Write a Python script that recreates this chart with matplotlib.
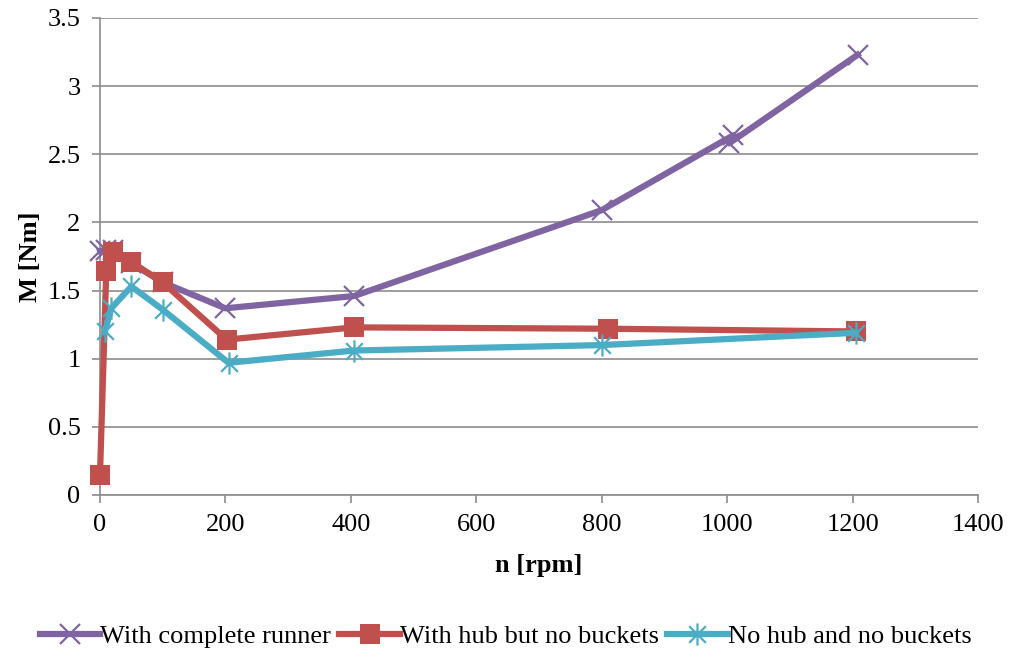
import matplotlib
matplotlib.use("Agg")
import matplotlib.pyplot as plt
from matplotlib.path import Path

# ------------------------
# Data
# ------------------------
n_runner = [0, 10, 20, 50, 100, 200, 405, 800, 1010, 1003, 1208]
m_runner = [1.79, 1.80, 1.80, 1.70, 1.56, 1.37, 1.46, 2.09, 2.64, 2.58, 3.23]

n_hub = [0, 10, 20, 50, 100, 202, 405, 810, 1205]
m_hub = [0.15, 1.64, 1.78, 1.71, 1.56, 1.14, 1.23, 1.22, 1.20]

n_bare = [8, 18, 50, 100, 205, 405, 800, 1205]
m_bare = [1.20, 1.37, 1.53, 1.36, 0.97, 1.06, 1.10, 1.19]

labels = ["With complete runner", "With hub but no buckets", "No hub and no buckets"]
colors = ["#8064A2", "#C0504D", "#4BACC6"]

xticks = [0, 200, 400, 600, 800, 1000, 1200, 1400]
yticks = [0, 0.5, 1, 1.5, 2, 2.5, 3, 3.5]

# ------------------------
# Style
# ------------------------
plt.rcParams["font.family"] = ["Liberation Serif", "DejaVu Serif"]
plt.rcParams["font.size"] = 19

# excel-like star marker: vertical + two diagonals
star = Path(
    [(0, -1), (0, 1), (-0.75, -0.75), (0.75, 0.75), (-0.75, 0.75), (0.75, -0.75)],
    [Path.MOVETO, Path.LINETO, Path.MOVETO, Path.LINETO, Path.MOVETO, Path.LINETO],
)

fig = plt.figure(figsize=(10.11, 6.52), dpi=100)
ax = fig.add_axes([0.0989, 0.2408, 0.8685, 0.7316])

ax.plot(n_runner, m_runner, color=colors[0], lw=4.5, marker="x", ms=15, mew=1.6,
        label=labels[0], zorder=3, clip_on=False)
ax.plot(n_hub, m_hub, color=colors[1], lw=4.5, marker="s", ms=15, mew=0,
        label=labels[1], zorder=4, clip_on=False)
ax.plot(n_bare, m_bare, color=colors[2], lw=4.5, marker=star, ms=16, mew=1.6,
        label=labels[2], zorder=5, clip_on=False)

ax.set_xlim(0, 1400)
ax.set_ylim(0, 3.5)
ax.set_xticks(xticks)
ax.set_yticks(yticks)
ax.set_yticklabels([f"{v:g}" for v in yticks])

ax.grid(axis="y", color="#8c8c8c", lw=1.2)
ax.set_axisbelow(True)
for side in ["top", "right"]:
    ax.spines[side].set_visible(False)
for side in ["left", "bottom"]:
    ax.spines[side].set_color("#8c8c8c")
    ax.spines[side].set_linewidth(1.2)
ax.tick_params(axis="both", colors="#8c8c8c", length=6, width=1.2,
               labelcolor="black", pad=8)

ax.set_xlabel("n [rpm]", fontweight="bold", labelpad=13)
ax.set_ylabel("M [Nm]", fontweight="bold", labelpad=4)

fig.legend(loc="center", bbox_to_anchor=(0.5, 0.024), ncol=3, frameon=False,
           handlelength=2.3, handletextpad=0.0, columnspacing=0.3)

fig.savefig("out.png", dpi=100)
